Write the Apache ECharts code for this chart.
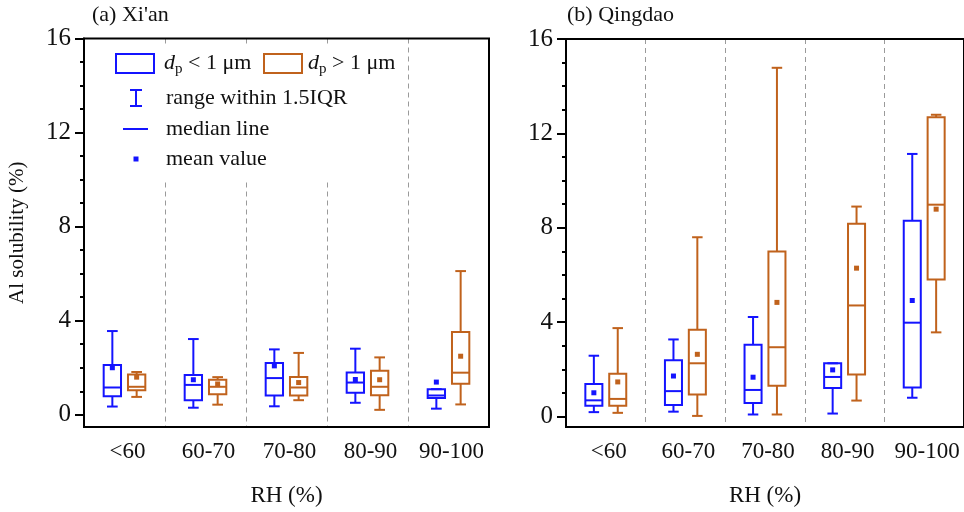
<!DOCTYPE html>
<html>
<head>
<meta charset="utf-8">
<script src="https://cdn.jsdelivr.net/npm/echarts@6/dist/echarts.min.js"></script>
<style>
  html, body { margin: 0; padding: 0; background: #fff; }
  #main { width: 964px; height: 512px; }
</style>
</head>
<body>
<div id="main"></div>
<script>
// RH bins
const categories = ['<60', '60-70', '70-80', '80-90', '90-100'];

// box stats per bin: [lower whisker, Q1, median, Q3, upper whisker]
const xianFine = [
  [0.35, 0.79, 1.16, 2.12, 3.56],
  [0.30, 0.62, 1.27, 1.69, 3.22],
  [0.36, 0.82, 1.56, 2.20, 2.78],
  [0.51, 0.94, 1.37, 1.80, 2.81],
  [0.26, 0.71, 0.82, 1.09, 1.09]
];
const xianFineMean = [2.00, 1.49, 2.08, 1.50, 1.39];

const xianCoarse = [
  [0.76, 1.04, 1.19, 1.71, 1.82],
  [0.43, 0.87, 1.19, 1.49, 1.60],
  [0.62, 0.82, 1.16, 1.61, 2.63],
  [0.21, 0.83, 1.19, 1.87, 2.44],
  [0.44, 1.32, 1.79, 3.52, 6.11]
];
const xianCoarseMean = [1.60, 1.31, 1.37, 1.49, 2.49];

const qingdaoFine = [
  [0.19, 0.46, 0.69, 1.38, 2.58],
  [0.21, 0.49, 1.08, 2.39, 3.27],
  [0.09, 0.58, 1.13, 3.04, 4.22],
  [0.13, 1.21, 1.68, 2.26, 2.26],
  [0.80, 1.23, 3.98, 8.30, 11.13]
];
const qingdaoFineMean = [1.01, 1.72, 1.67, 1.98, 4.92];

const qingdaoCoarse = [
  [0.16, 0.46, 0.75, 1.82, 3.75],
  [0.03, 0.94, 2.26, 3.68, 7.60],
  [0.09, 1.31, 2.94, 7.00, 14.78],
  [0.68, 1.78, 4.71, 8.17, 8.90],
  [3.57, 5.81, 8.98, 12.68, 12.79]
];
const qingdaoCoarseMean = [1.47, 2.64, 4.84, 6.29, 8.79];

const majorTicks = [0, 4, 8, 12, 16];
const minorTicks = [1, 2, 3, 5, 6, 7, 9, 10, 11, 13, 14, 15];

const BLUE = '#1414ff';
const ORANGE = '#c0621c';
const FONT = 'Liberation Serif';

function toRows(stats, means) {
  return stats.map((s, i) => [i].concat(s, [means[i]]));
}

// one box per category, shifted left (-1) or right (+1) inside the band
function boxRenderer(side, color) {
  return function (params, api) {
    const idx = api.value(0);
    const band = api.size([1, 0])[0];
    const cx = api.coord([idx, 0])[0] + side * band * 0.15;
    const y = d => api.coord([idx, api.value(d)])[1];
    const half = band * 0.107;
    const cap = band * 0.066;
    const st = { stroke: color, lineWidth: 2, fill: null };
    const line = (x1, y1, x2, y2) => ({ type: 'line', shape: { x1, y1, x2, y2 }, style: st });
    return {
      type: 'group',
      children: [
        line(cx, y(5), cx, y(4)),
        line(cx - cap, y(5), cx + cap, y(5)),
        line(cx, y(1), cx, y(2)),
        line(cx - cap, y(1), cx + cap, y(1)),
        { type: 'rect', shape: { x: cx - half, y: y(4), width: half * 2, height: y(2) - y(4) }, style: st },
        line(cx - half, y(3), cx + half, y(3)),
        { type: 'rect', shape: { x: cx - 2.5, y: y(6) - 2.5, width: 5, height: 5 }, style: { fill: color } }
      ]
    };
  };
}

function boxSeries(gi, side, color, stats, means) {
  return {
    type: 'custom',
    xAxisIndex: gi,
    yAxisIndex: gi * 2,
    renderItem: boxRenderer(side, color),
    encode: { x: 0, y: [1, 2, 3, 4, 5, 6] },
    data: toRows(stats, means),
    silent: true,
    z: 5
  };
}

function xAxisFor(gi) {
  return {
    type: 'category',
    gridIndex: gi,
    data: categories,
    boundaryGap: true,
    z: 1,
    name: 'RH (%)',
    nameLocation: 'middle',
    nameGap: 57,
    nameTextStyle: { fontFamily: FONT, fontSize: 23, color: '#111' },
    axisLine: { onZero: false, lineStyle: { color: '#000', width: 2 } },
    axisTick: { show: false },
    axisLabel: { interval: 0, fontFamily: FONT, fontSize: 23, color: '#111', margin: 13, padding: [0, 0, 0, 6] },
    splitLine: { show: true, interval: 0, lineStyle: { color: '#9a9a9a', width: 1, type: [5, 4] } }
  };
}

function yAxesFor(gi, min, withName) {
  const main = {
    type: 'value',
    gridIndex: gi,
    min: min,
    max: 16,
    z: 4,
    axisLine: { show: true, lineStyle: { color: '#000', width: 2 } },
    axisTick: { show: true, customValues: majorTicks, length: 9, lineStyle: { color: '#000', width: 2 } },
    axisLabel: { customValues: majorTicks, fontFamily: FONT, fontSize: 25, color: '#111', margin: 13 },
    splitLine: { show: false }
  };
  if (withName) {
    main.name = 'Al solubility (%)';
    main.nameLocation = 'middle';
    main.nameGap = 56;
    main.nameTextStyle = { fontFamily: FONT, fontSize: 21, color: '#111' };
  }
  const minor = {
    type: 'value',
    gridIndex: gi,
    min: min,
    max: 16,
    position: 'left',
    z: 4,
    axisLine: { show: false },
    axisTick: { show: true, customValues: minorTicks, length: 4, lineStyle: { color: '#000', width: 2 } },
    axisLabel: { show: false },
    splitLine: { show: false }
  };
  return [main, minor];
}

// legend drawn by hand, like the original figure
const legendText = (x, y, text) => ({
  type: 'text', x, y, z: 11,
  style: { text, fontFamily: FONT, fontSize: 22, fill: '#111', verticalAlign: 'middle' }
});
const dpText = (x, y, rest) => ({
  type: 'text', x, y, z: 11,
  style: {
    text: '{i|d}{s|p}{n|' + rest + '}',
    verticalAlign: 'middle',
    rich: {
      i: { fontFamily: FONT, fontSize: 22, fontStyle: 'italic', fill: '#111' },
      s: { fontFamily: FONT, fontSize: 15, fill: '#111', padding: [12, 0, 0, 0] },
      n: { fontFamily: FONT, fontSize: 22, fill: '#111' }
    }
  }
});

const graphics = [
  { type: 'text', x: 92, y: 15, style: { text: "(a) Xi'an", fontFamily: FONT, fontSize: 22, fill: '#111', verticalAlign: 'middle' } },
  { type: 'text', x: 567, y: 15, style: { text: '(b) Qingdao', fontFamily: FONT, fontSize: 22, fill: '#111', verticalAlign: 'middle' } },
  { type: 'rect', z: 10, shape: { x: 100, y: 46, width: 300, height: 134 }, style: { fill: '#fff' } },
  { type: 'rect', z: 11, shape: { x: 116, y: 54, width: 38, height: 19 }, style: { fill: null, stroke: BLUE, lineWidth: 2 } },
  dpText(164, 63, ' < 1 μm'),
  { type: 'rect', z: 11, shape: { x: 264, y: 54, width: 38, height: 19 }, style: { fill: null, stroke: ORANGE, lineWidth: 2 } },
  dpText(308, 63, ' > 1 μm'),
  { type: 'line', z: 11, shape: { x1: 136, y1: 90, x2: 136, y2: 106 }, style: { stroke: BLUE, lineWidth: 2 } },
  { type: 'line', z: 11, shape: { x1: 130, y1: 90, x2: 142, y2: 90 }, style: { stroke: BLUE, lineWidth: 2 } },
  { type: 'line', z: 11, shape: { x1: 130, y1: 106, x2: 142, y2: 106 }, style: { stroke: BLUE, lineWidth: 2 } },
  legendText(166, 98, 'range within 1.5IQR'),
  { type: 'line', z: 11, shape: { x1: 123, y1: 129, x2: 148, y2: 129 }, style: { stroke: BLUE, lineWidth: 2 } },
  legendText(166, 129, 'median line'),
  { type: 'rect', z: 11, shape: { x: 133.5, y: 156.5, width: 5, height: 5 }, style: { fill: BLUE } },
  legendText(166, 159, 'mean value')
];

const chart = echarts.init(document.getElementById('main'), null, { renderer: 'canvas' });
chart.setOption({
  animation: false,
  backgroundColor: '#fff',
  grid: [
    { left: 84, top: 38.5, width: 405, height: 401.6, z: 3, show: true, borderColor: '#000', borderWidth: 2, backgroundColor: 'transparent' },
    { left: 566, top: 39, width: 403.5, height: 399.4, z: 3, show: true, borderColor: '#000', borderWidth: 2, backgroundColor: 'transparent' }
  ],
  xAxis: [xAxisFor(0), xAxisFor(1)],
  yAxis: yAxesFor(0, -0.52, true).concat(yAxesFor(1, -0.44, false)),
  series: [
    boxSeries(0, -1, BLUE, xianFine, xianFineMean),
    boxSeries(0, 1, ORANGE, xianCoarse, xianCoarseMean),
    boxSeries(1, -1, BLUE, qingdaoFine, qingdaoFineMean),
    boxSeries(1, 1, ORANGE, qingdaoCoarse, qingdaoCoarseMean)
  ],
  graphic: graphics
});
</script>
</body>
</html>
